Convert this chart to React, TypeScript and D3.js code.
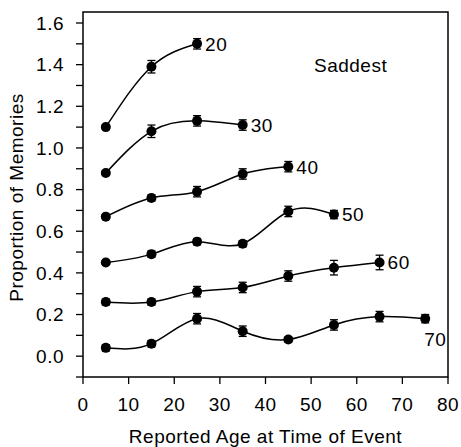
import React, { useEffect, useRef } from 'react';
import * as d3 from 'd3';

// age at test groups, each line is one group
const groupLabels = ['20', '30', '40', '50', '60', '70'];
const eventAges = [5, 15, 25, 35, 45, 55, 65, 75];

const means20 = [1.10, 1.39, 1.50];
const means30 = [0.88, 1.08, 1.13, 1.11];
const means40 = [0.67, 0.76, 0.79, 0.875, 0.91];
const means50 = [0.45, 0.49, 0.55, 0.54, 0.695, 0.68];
const means60 = [0.26, 0.26, 0.31, 0.33, 0.385, 0.425, 0.45];
const means70 = [0.04, 0.06, 0.18, 0.12, 0.08, 0.15, 0.19, 0.18];

const errs20 = [0.01, 0.03, 0.025];
const errs30 = [0.01, 0.03, 0.025, 0.025];
const errs40 = [0.01, 0.015, 0.025, 0.025, 0.025];
const errs50 = [0.008, 0.015, 0.015, 0.015, 0.025, 0.02];
const errs60 = [0.015, 0.015, 0.025, 0.025, 0.025, 0.035, 0.035];
const errs70 = [0.015, 0.015, 0.025, 0.025, 0.012, 0.025, 0.025, 0.02];

const xTicks = [0, 10, 20, 30, 40, 50, 60, 70, 80];
const yTicks = [-0.1, 0, 0.1, 0.2, 0.3, 0.4, 0.5, 0.6, 0.7, 0.8, 0.9, 1.0, 1.1, 1.2, 1.3, 1.4, 1.5, 1.6];
const yLabelTicks = [0, 0.2, 0.4, 0.6, 0.8, 1.0, 1.2, 1.4, 1.6];

interface Pt { x: number; y: number; e: number; }

export default function App() {
  const svgRef = useRef<SVGSVGElement>(null);

  useEffect(() => {
    if (!svgRef.current) return;
    const svg = d3.select(svgRef.current);
    svg.selectAll('*').remove();

    const font = 'Liberation Sans, Arial, sans-serif';
    const fs = 19;
    const ls = 0.5;
    const left = 83, right = 448, top = 12, bottom = 377;

    const x = d3.scaleLinear().domain([0, 80]).range([left, right]);
    const y = d3.scaleLinear().domain([-0.1, 1.6]).range([bottom, 23]);

    const txt = (sel: d3.Selection<SVGTextElement, unknown, null, undefined>) =>
      sel.attr('font-family', font).attr('font-size', fs).attr('letter-spacing', ls).attr('fill', '#000');

    // frame
    svg.append('rect')
      .attr('x', left).attr('y', top)
      .attr('width', right - left).attr('height', bottom - top)
      .attr('fill', 'none').attr('stroke', '#000').attr('stroke-width', 1.5);

    // y axis
    const yAxis = svg.append('g');
    yTicks.forEach(t => {
      yAxis.append('line')
        .attr('x1', left - 7).attr('x2', left)
        .attr('y1', y(t)).attr('y2', y(t))
        .attr('stroke', '#000').attr('stroke-width', 1.3);
    });
    yLabelTicks.forEach(t => {
      yAxis.append('text')
        .attr('x', left - 19).attr('y', y(t))
        .attr('dy', '0.36em')
        .attr('text-anchor', 'end')
        .call(txt)
        .text(d3.format('.1f')(t));
    });

    // x axis
    const xAxis = svg.append('g');
    xTicks.forEach(t => {
      xAxis.append('line')
        .attr('x1', x(t)).attr('x2', x(t))
        .attr('y1', bottom).attr('y2', bottom + 7)
        .attr('stroke', '#000').attr('stroke-width', 1.3);
      xAxis.append('text')
        .attr('x', x(t)).attr('y', 411)
        .attr('text-anchor', 'middle')
        .call(txt)
        .text(String(t));
    });

    // axis titles
    svg.append('text')
      .attr('x', (left + right) / 2).attr('y', 443)
      .attr('text-anchor', 'middle')
      .call(txt)
      .text('Reported Age at Time of Event');
    svg.append('text')
      .attr('transform', `translate(23,${(93 + 302) / 2}) rotate(-90)`)
      .attr('text-anchor', 'middle')
      .call(txt)
      .text('Proportion of Memories');

    svg.append('text')
      .attr('x', 314).attr('y', 72)
      .call(txt)
      .text('Saddest');

    const allMeans = [means20, means30, means40, means50, means60, means70];
    const allErrs = [errs20, errs30, errs40, errs50, errs60, errs70];

    const line = d3.line<Pt>()
      .x(d => x(d.x))
      .y(d => y(d.y))
      .curve(d3.curveNatural);

    allMeans.forEach((means, i) => {
      const pts: Pt[] = means.map((m, j) => ({ x: eventAges[j], y: m, e: allErrs[i][j] }));
      const g = svg.append('g');

      g.append('path')
        .datum(pts)
        .attr('d', line)
        .attr('fill', 'none')
        .attr('stroke', '#000')
        .attr('stroke-width', 1.5);

      pts.forEach(p => {
        const cx = x(p.x);
        const y0 = y(p.y - p.e), y1 = y(p.y + p.e);
        g.append('line')
          .attr('x1', cx).attr('x2', cx).attr('y1', y0).attr('y2', y1)
          .attr('stroke', '#000').attr('stroke-width', 1.3);
        [y0, y1].forEach(yy => {
          g.append('line')
            .attr('x1', cx - 4).attr('x2', cx + 4).attr('y1', yy).attr('y2', yy)
            .attr('stroke', '#000').attr('stroke-width', 1.3);
        });
        g.append('circle')
          .attr('cx', cx).attr('cy', y(p.y)).attr('r', 5)
          .attr('fill', '#000');
      });

      const last = pts[pts.length - 1];
      const isLast = i === allMeans.length - 1;
      g.append('text')
        .attr('x', isLast ? x(last.x) - 1 : x(last.x) + 8)
        .attr('y', isLast ? y(last.y) + 27 : y(last.y))
        .attr('dy', isLast ? 0 : '0.36em')
        .call(txt)
        .text(groupLabels[i]);
    });
  }, []);

  return (
    <svg
      ref={svgRef}
      width={461}
      height={447}
      style={{ position: 'absolute', left: 0, top: 0, background: '#fff' }}
    />
  );
}
